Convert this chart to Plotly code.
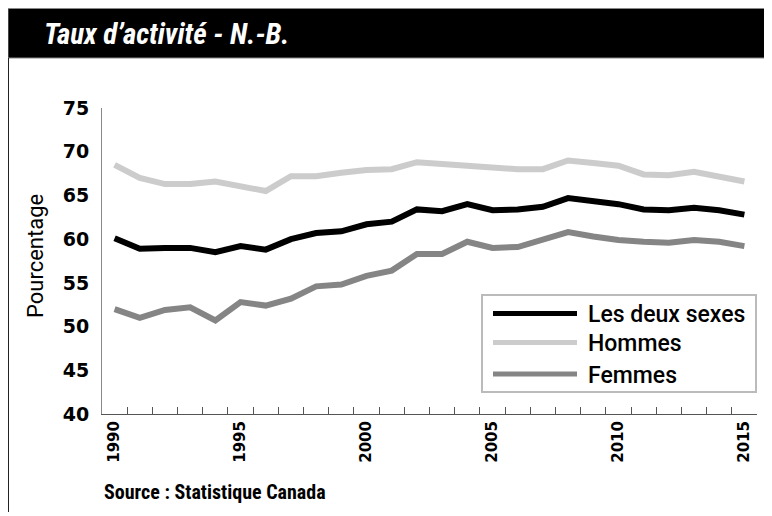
import plotly.graph_objects as go

# ---- data ----
years = list(range(1990, 2016))
series_names = ["Les deux sexes", "Hommes", "Femmes"]
deux_sexes = [60.1, 58.9, 59.0, 59.0, 58.5, 59.2, 58.8, 60.0, 60.7, 60.9, 61.7, 62.0, 63.4,
              63.2, 64.0, 63.3, 63.4, 63.7, 64.7, 64.3, 64.0, 63.4, 63.3, 63.6, 63.3, 62.8]
hommes = [68.5, 67.0, 66.3, 66.3, 66.6, 66.0, 65.5, 67.2, 67.2, 67.6, 67.9, 68.0, 68.8,
          68.6, 68.4, 68.1, 68.0, 68.0, 69.0, 68.7, 68.4, 67.4, 67.3, 67.7, 67.1, 66.6]
femmes = [52.0, 51.0, 51.9, 52.2, 50.7, 52.8, 52.4, 53.2, 54.6, 54.8, 55.8, 56.4, 58.3,
          58.3, 59.7, 59.0, 59.1, 59.9, 60.8, 60.3, 59.9, 59.7, 59.6, 59.9, 59.7, 59.2]
label_years = [1990, 1995, 2000, 2005, 2010, 2015]
y_ticks = [40, 45, 50, 55, 60, 65, 70, 75]
title_text = "Taux d\u2019activit\u00e9 - N.-B."
source_text = "Source : Statistique Canada"
y_title = "Pourcentage"

colors = ["#000000", "#cccccc", "#858585"]
values = [deux_sexes, hommes, femmes]

# page body has an 8px margin: figure is placed at (8, 8) in the window
OFF = 8
W, H = 772 - OFF, 516 - OFF
PLOT_L, PLOT_R, PLOT_T, PLOT_B = 102, 757, 108, 414   # window pixel coords
L, T = PLOT_L - OFF, PLOT_T - OFF
R, B = W - (PLOT_R - OFF), H - (PLOT_B - OFF)
PW, PH = PLOT_R - PLOT_L, PLOT_B - PLOT_T


def px(x):
    return (x - PLOT_L) / PW


def py(y):
    return (PLOT_B - y) / PH


cats = [str(y) for y in years]

fig = go.Figure()
for name, vals, col in zip(series_names, values, colors):
    fig.add_trace(go.Scatter(x=cats, y=vals, mode="lines", name=name,
                             line=dict(color=col, width=6), showlegend=False,
                             hoverinfo="skip"))

tick_font = "DejaVu Sans, Verdana, sans-serif"
narrow = "Liberation Sans Narrow, Roboto Condensed, Liberation Sans, sans-serif"
fig.update_layout(
    width=W, height=H,
    margin=dict(l=L, r=R, t=T, b=B, autoexpand=False),
    paper_bgcolor="white", plot_bgcolor="white",
    xaxis=dict(type="category", tickmode="array", tickvals=cats,
               ticktext=[c if int(c) in label_years else "" for c in cats],
               tickson="boundaries", ticks="inside", ticklen=7, tickcolor="#555",
               tickwidth=1, showline=True, linecolor="#555", linewidth=1,
               showgrid=False, zeroline=False, tickangle=-90,
               tickfont=dict(family=tick_font, size=15, color="black", weight="bold"),
               range=[-0.5, len(cats) - 0.5], fixedrange=True),
    yaxis=dict(range=[40, 75], tickmode="array", tickvals=y_ticks,
               showline=True, linecolor="#888", linewidth=1, ticks="",
               showgrid=False, zeroline=False, ticklabelstandoff=8,
               tickfont=dict(family=tick_font, size=19, color="black", weight="bold"),
               fixedrange=True),
)

shapes = []
# title bar
shapes.append(dict(type="rect", xref="paper", yref="paper", x0=px(8), x1=px(773),
                   y0=py(58), y1=py(8.5), fillcolor="black",
                   line=dict(color="#888", width=1), layer="above"))
# left frame line
shapes.append(dict(type="line", xref="paper", yref="paper", x0=px(8.5), x1=px(8.5),
                   y0=py(512), y1=py(58), line=dict(color="#222", width=1)))
# legend box
shapes.append(dict(type="rect", xref="paper", yref="paper", x0=px(482), x1=px(756),
                   y0=py(392), y1=py(295), fillcolor="white",
                   line=dict(color="#bbbbbb", width=2), layer="above"))
annots = []
leg_rows = [313.5, 342.5, 374]
for name, col, ry in zip(series_names, colors, leg_rows):
    shapes.append(dict(type="line", xref="paper", yref="paper", x0=px(493), x1=px(577),
                       y0=py(ry), y1=py(ry), line=dict(color=col, width=5), layer="above"))
    annots.append(dict(xref="paper", yref="paper", x=px(586), y=py(ry + 1), text=name,
                       showarrow=False, xanchor="left", yanchor="middle",
                       font=dict(family="Roboto, Open Sans, sans-serif", size=23,
                                 color="black", weight=500)))

annots.append(dict(xref="paper", yref="paper", x=px(42), y=py(34), text=title_text,
                   showarrow=False, xanchor="left", yanchor="middle",
                   font=dict(family=narrow, size=29, color="white", weight="bold",
                             style="italic")))
annots.append(dict(xref="paper", yref="paper", x=px(102), y=py(492), text=source_text,
                   showarrow=False, xanchor="left", yanchor="middle",
                   font=dict(family=narrow, size=20, color="black", weight="bold")))
annots.append(dict(xref="paper", yref="paper", x=px(36), y=py(256), text=y_title,
                   showarrow=False, textangle=-90, xanchor="center", yanchor="middle",
                   font=dict(family="Roboto, Open Sans, sans-serif", size=22, color="black")))

fig.update_layout(shapes=shapes, annotations=annots)
fig.write_html("out.html")
